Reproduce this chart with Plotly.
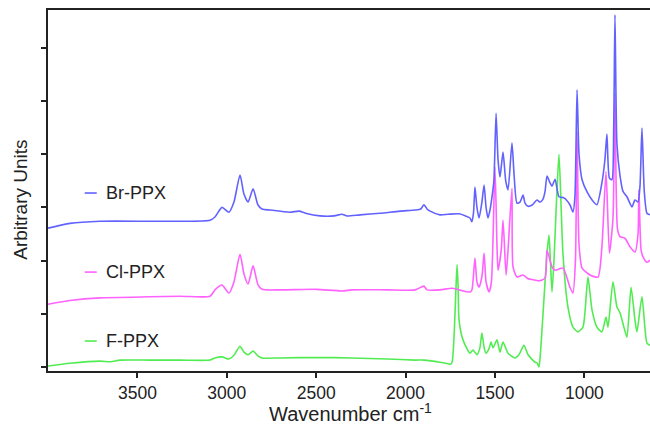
import plotly.graph_objects as go

# ---- data (wavenumber cm-1, arbitrary units) ----
br_wn = [4000, 3877, 3709, 3430, 3262, 3094, 3066, 3027, 2988, 2960, 2926, 2904, 2881, 2853, 2826, 2803,
         2758, 2647, 2596, 2560, 2479, 2400, 2356, 2330, 2255, 2143, 2031, 1947, 1915, 1897, 1880, 1863,
         1808, 1763, 1700, 1640, 1629, 1620, 1612, 1601, 1589, 1573, 1561, 1550, 1539, 1528, 1517, 1506,
         1494, 1483, 1472, 1455, 1440, 1427, 1405, 1393, 1377, 1360, 1343, 1332, 1315, 1290, 1265, 1248,
         1232, 1220, 1209, 1195, 1181, 1164, 1142, 1114, 1081, 1064, 1053, 1041, 1030, 1013, 985, 957,
         930, 902, 885, 874, 860, 846, 836, 829, 818, 801, 784, 762, 734, 717, 700, 689, 678, 665, 650, 633]
br_val = [2.61, 2.70, 2.74, 2.74, 2.74, 2.76, 2.82, 3.00, 2.91, 3.10, 3.61, 3.25, 3.10, 3.35, 3.05, 2.97,
          2.95, 2.91, 2.93, 2.89, 2.84, 2.84, 2.87, 2.84, 2.86, 2.89, 2.93, 2.95, 2.97, 3.05, 2.97, 2.93,
          2.86, 2.87, 2.88, 2.80, 2.73, 2.90, 3.38, 3.00, 2.80, 3.10, 3.42, 3.00, 2.80, 2.95, 3.19, 3.50,
          4.77, 3.90, 3.57, 4.04, 3.50, 3.33, 4.21, 3.60, 3.08, 3.10, 3.23, 3.08, 3.02, 3.05, 3.14, 3.10,
          3.15, 3.30, 3.59, 3.48, 3.40, 3.53, 3.20, 3.18, 3.05, 2.91, 3.20, 5.21, 4.00, 3.52, 3.29, 3.14,
          3.05, 3.46, 3.90, 4.38, 3.55, 3.52, 4.50, 6.62, 4.20, 3.60, 3.30, 3.20, 3.01, 3.14, 3.10, 3.40,
          4.49, 3.30, 2.89, 2.86]

cl_wn = [4000, 3877, 3709, 3430, 3262, 3094, 3066, 3027, 2988, 2960, 2926, 2904, 2881, 2853, 2826, 2803,
         2700, 2500, 2356, 2300, 2100, 1947, 1897, 1880, 1808, 1740, 1700, 1640, 1629, 1612, 1601, 1589,
         1573, 1561, 1550, 1533, 1520, 1500, 1489, 1483, 1465, 1455, 1438, 1427, 1405, 1399, 1377, 1343,
         1315, 1287, 1254, 1220, 1209, 1181, 1164, 1120, 1081, 1064, 1050, 1041, 1030, 1013, 969, 924,
         902, 879, 860, 840, 829, 815, 801, 773, 745, 717, 700, 695, 683, 672, 650, 633]
cl_val = [1.18, 1.25, 1.30, 1.32, 1.33, 1.33, 1.45, 1.54, 1.39, 1.60, 2.12, 1.75, 1.56, 1.90, 1.55, 1.46,
          1.45, 1.46, 1.43, 1.45, 1.45, 1.45, 1.52, 1.45, 1.45, 1.48, 1.45, 1.41, 1.45, 2.05, 1.60, 1.50,
          1.70, 2.14, 1.60, 1.41, 1.60, 3.76, 2.30, 1.82, 2.20, 2.76, 1.73, 2.20, 3.36, 1.88, 1.69, 1.73,
          1.66, 1.64, 1.62, 1.67, 2.20, 1.88, 1.82, 1.86, 1.50, 1.39, 2.00, 4.42, 2.30, 1.86, 1.73, 1.69,
          2.26, 3.67, 2.14, 2.80, 5.15, 2.60, 2.45, 2.42, 2.26, 2.16, 2.50, 3.33, 2.20, 2.07, 1.97, 2.01]

f_wn = [4000, 3877, 3709, 3650, 3597, 3430, 3262, 3094, 3066, 3027, 2988, 2960, 2926, 2904, 2881, 2853,
        2826, 2803, 2700, 2500, 2300, 2100, 1947, 1897, 1808, 1763, 1750, 1740, 1730, 1718, 1712, 1706,
        1701, 1679, 1640, 1623, 1601, 1585, 1573, 1560, 1550, 1533, 1522, 1511, 1489, 1472, 1455, 1427,
        1388, 1366, 1338, 1315, 1276, 1265, 1254, 1245, 1237, 1220, 1209, 1198, 1190, 1181, 1170, 1155,
        1142, 1130, 1120, 1092, 1064, 1036, 1008, 995, 980, 957, 930, 902, 879, 868, 840, 818,
        801, 779, 762, 739, 717, 706, 678, 650, 633]
f_val = [0.02, 0.07, 0.11, 0.10, 0.13, 0.13, 0.13, 0.13, 0.17, 0.19, 0.15, 0.22, 0.39, 0.28, 0.23, 0.30,
         0.21, 0.17, 0.17, 0.18, 0.17, 0.15, 0.13, 0.13, 0.09, 0.06, 0.05, 0.09, 0.50, 1.50, 1.92, 1.50,
         0.88, 0.51, 0.26, 0.32, 0.23, 0.35, 0.64, 0.35, 0.26, 0.35, 0.47, 0.36, 0.51, 0.28, 0.47, 0.26,
         0.17, 0.23, 0.41, 0.23, 0.09, 0.08, 0.00, 0.30, 0.70, 1.60, 2.14, 2.48, 2.00, 1.41, 2.00, 3.20,
         4.00, 3.00, 2.14, 1.13, 0.75, 0.66, 0.75, 1.10, 1.69, 1.07, 0.75, 0.66, 0.94, 0.75, 1.60, 1.13,
         1.02, 0.75, 0.56, 1.50, 0.88, 0.66, 1.32, 0.45, 0.41]

series_names = ["Br-PPX", "Cl-PPX", "F-PPX"]
series_colors = ["#6262ff", "#ff62ff", "#52ec52"]
x_ticks = [3500, 3000, 2500, 2000, 1500, 1000]
y_ticks = [0, 1, 2, 3, 4, 5, 6]

FONT = "Liberation Sans, Arial, sans-serif"

fig = go.Figure()
for wn, val, name, col in [(f_wn, f_val, series_names[2], series_colors[2]),
                           (cl_wn, cl_val, series_names[1], series_colors[1]),
                           (br_wn, br_val, series_names[0], series_colors[0])]:
    fig.add_trace(go.Scatter(x=wn, y=val, mode="lines", name=name,
                             line=dict(color=col, width=1.6, shape="spline", smoothing=0.6)))

# inline legend
leg_y = {"Br-PPX": 0.493, "Cl-PPX": 0.274, "F-PPX": 0.083}
for name, col in zip(series_names, series_colors):
    fig.add_shape(type="line", xref="paper", yref="paper", x0=0.061, x1=0.081,
                  y0=leg_y[name], y1=leg_y[name], line=dict(color=col, width=1.6))
    fig.add_annotation(text=name, xref="paper", yref="paper", x=0.093, y=leg_y[name],
                       xanchor="left", yanchor="middle", showarrow=False,
                       font=dict(family=FONT, size=18, color="#222222"))

fig.add_annotation(text="Arbitrary Units", xref="paper", yref="paper", x=-0.045, y=0.474,
                   textangle=-90, showarrow=False, xanchor="center", yanchor="middle",
                   font=dict(family=FONT, size=19, color="#222222"))
fig.add_annotation(text="Wavenumber cm<sup>-1</sup>", xref="paper", yref="paper", x=0.502, y=-0.114,
                   showarrow=False, xanchor="center", yanchor="middle",
                   font=dict(family=FONT, size=20, color="#222222"))

fig.update_layout(
    width=650, height=433,
    margin=dict(l=48, r=0, t=10, b=62),
    paper_bgcolor="white", plot_bgcolor="white",
    showlegend=False,
    font=dict(family=FONT, size=17, color="#222222"),
)
fig.update_xaxes(range=[4000, 633], tickvals=x_ticks, ticks="outside", ticklen=5, tickwidth=1.5,
                 tickcolor="#222222", showline=True, linecolor="#222222", linewidth=2, mirror=True,
                 showgrid=False, zeroline=False, tickfont=dict(size=17.5))
fig.update_yaxes(range=[-0.075, 6.71], tickvals=y_ticks, showticklabels=False, ticks="outside",
                 ticklen=5, tickwidth=1.5, tickcolor="#222222", showline=True, linecolor="#222222",
                 linewidth=2, showgrid=False, zeroline=False)

fig.write_html("out.html", config={"displayModeBar": False},
               post_script="document.body.style.margin='0';")
